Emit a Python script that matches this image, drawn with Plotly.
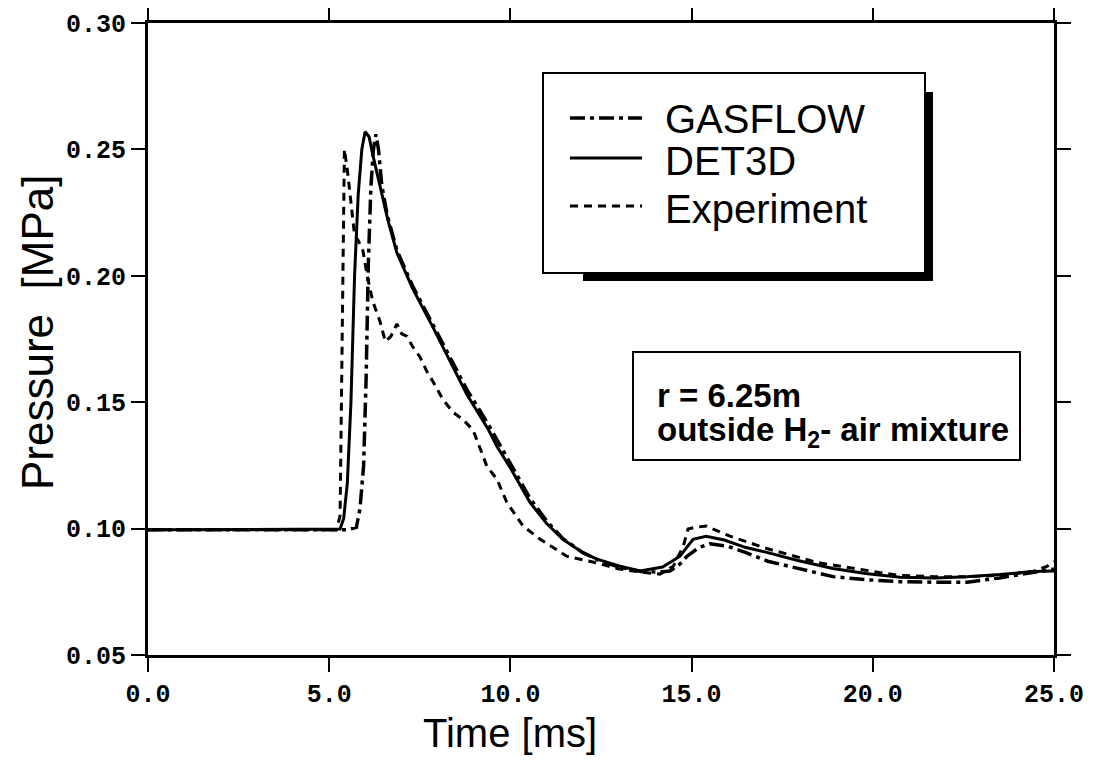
import plotly.graph_objects as go

# ---------------- data ----------------
det3d_t = [0.0, 5.0, 5.3, 5.4, 5.5, 5.6, 5.7, 5.8, 5.9, 5.99, 6.1, 6.2, 6.4, 6.62, 6.87,
           7.3, 7.85, 8.3, 8.8, 9.4, 9.63, 10.0, 10.54, 11.0, 11.45, 12.0, 12.39, 13.0,
           13.58, 14.2, 14.68, 15.04, 15.4, 15.9, 16.5, 17.1, 17.9, 18.9, 19.8, 20.75,
           21.7, 22.6, 23.5, 24.4, 25.0]
det3d_p = [0.0995, 0.0995, 0.0998, 0.104, 0.118, 0.150, 0.200, 0.232, 0.250, 0.257, 0.255,
           0.248, 0.235, 0.222, 0.209, 0.195, 0.180, 0.167, 0.153, 0.139, 0.1325, 0.124,
           0.1104, 0.102, 0.0958, 0.0905, 0.0879, 0.0852, 0.0832, 0.0848, 0.0891, 0.0958,
           0.0970, 0.0955, 0.0925, 0.0905, 0.0875, 0.0842, 0.0822, 0.0808, 0.0805, 0.0810,
           0.0818, 0.0830, 0.0832]

gasflow_t = [0.0, 5.5, 5.75, 5.85, 5.95, 6.02, 6.08, 6.15, 6.22, 6.29, 6.36, 6.45, 6.6,
             6.87, 7.3, 7.85, 8.3, 8.8, 9.4, 10.0, 10.54, 11.0, 11.45, 12.0, 12.5, 13.0,
             13.6, 14.1, 14.4, 14.68, 14.87, 15.2, 15.5, 16.0, 16.5, 17.1, 18.0, 18.9,
             19.8, 20.75, 21.7, 22.6, 23.5, 24.4, 25.0]
gasflow_p = [0.0995, 0.0995, 0.1005, 0.108, 0.125, 0.160, 0.205, 0.235, 0.250, 0.256,
             0.250, 0.236, 0.224, 0.210, 0.196, 0.181, 0.168, 0.155, 0.141, 0.126, 0.112,
             0.103, 0.0960, 0.0905, 0.0870, 0.0848, 0.0830, 0.0828, 0.0832, 0.0860,
             0.0890, 0.0925, 0.0940, 0.0930, 0.0905, 0.0871, 0.0840, 0.0810, 0.0798,
             0.0790, 0.0788, 0.0788, 0.0805, 0.0825, 0.0840]

exp_t = [0.0, 5.2, 5.3, 5.36, 5.42, 5.5, 5.6, 5.7, 5.8, 5.93, 6.05, 6.2, 6.4, 6.55, 6.7,
         6.87, 7.0, 7.15, 7.3, 7.5, 7.7, 7.87, 8.14, 8.42, 8.7, 8.97, 9.35, 9.63, 9.9,
         10.35, 10.82, 11.55, 12.3, 13.0, 13.6, 14.13, 14.5, 14.77, 14.9, 15.1, 15.4,
         16.06, 17.1, 18.5, 19.8, 20.7, 21.7, 22.6, 23.5, 24.4, 24.8, 25.0]
exp_p = [0.0995, 0.0995, 0.105, 0.180, 0.250, 0.242, 0.230, 0.216, 0.214, 0.210, 0.200,
         0.190, 0.182, 0.174, 0.176, 0.181, 0.177, 0.176, 0.172, 0.168, 0.162, 0.158,
         0.151, 0.146, 0.143, 0.139, 0.1247, 0.1195, 0.1104, 0.101, 0.0958, 0.0891,
         0.0867, 0.0840, 0.0828, 0.0820, 0.0852, 0.0930, 0.0998, 0.1005, 0.1010, 0.0970,
         0.0920, 0.0865, 0.0835, 0.0815, 0.0810, 0.0810, 0.0815, 0.0830, 0.0850, 0.0870]

series_names = ["GASFLOW", "DET3D", "Experiment"]
x_ticks = [0.0, 5.0, 10.0, 15.0, 20.0, 25.0]
y_ticks = [0.05, 0.10, 0.15, 0.20, 0.25, 0.30]

# ---------------- layout geometry ----------------
# page has an 8px body margin, so the figure is shrunk by 16px and margins shifted
OFF = 8
W, H = 1096 - 2 * OFF, 767 - 2 * OFF
PL, PR, PT, PB = 148, 1054, 23, 655          # plot area in page pixels
ML, MT = PL - OFF, PT - OFF
MR, MB = W - (PR - OFF), H - (PB - OFF)
PW, PH = PR - PL, PB - PT

def px(x):  # page pixel x -> paper
    return (x - PL) / PW

def py(y):  # page pixel y -> paper
    return (PB - y) / PH

styles = {
    "GASFLOW": dict(color="black", width=3.5, dash="15px,5px,4px,5px"),
    "DET3D": dict(color="black", width=3, dash="solid"),
    "Experiment": dict(color="black", width=3, dash="8px,6px"),
}

fig = go.Figure()
for name, t, p in [("Experiment", exp_t, exp_p), ("GASFLOW", gasflow_t, gasflow_p),
                   ("DET3D", det3d_t, det3d_p)]:
    fig.add_trace(go.Scatter(x=t, y=p, mode="lines", name=name, line=styles[name],
                             showlegend=False))

tick_font = dict(family="Liberation Mono", size=25, color="black", weight="bold")
axis_common = dict(showgrid=False, zeroline=False, showline=True, linecolor="black",
                   linewidth=3, mirror="allticks", ticks="outside", ticklen=14,
                   tickwidth=2, tickcolor="black", tickfont=tick_font, automargin=False)
fig.update_xaxes(range=[0, 25], tickvals=x_ticks,
                 ticktext=[f"{v:.1f}" for v in x_ticks], **axis_common)
fig.update_yaxes(range=[0.05, 0.30], tickvals=y_ticks,
                 ticktext=[f"{v:.2f}" for v in y_ticks], **axis_common)

shapes = []
annotations = []
# legend box with drop shadow
shapes.append(dict(type="rect", xref="paper", yref="paper", x0=px(583), x1=px(933),
                   y0=py(281), y1=py(92), fillcolor="black", line=dict(width=0), layer="above"))
shapes.append(dict(type="rect", xref="paper", yref="paper", x0=px(543), x1=px(925),
                   y0=py(273), y1=py(73), fillcolor="white",
                   line=dict(color="black", width=2), layer="above"))
leg_rows = [("GASFLOW", 118, 119), ("DET3D", 158, 161), ("Experiment", 206, 209)]
for name, ly, ty in leg_rows:
    st = styles[name]
    shapes.append(dict(type="line", xref="paper", yref="paper", x0=px(570), x1=px(642),
                       y0=py(ly), y1=py(ly), layer="above",
                       line=dict(color="black", width=st["width"], dash=st["dash"])))
    annotations.append(dict(text=name, xref="paper", yref="paper", x=px(663), y=py(ty),
                            xanchor="left", yanchor="middle", showarrow=False,
                            font=dict(family="Liberation Sans", size=40, color="black")))

# info box
shapes.append(dict(type="rect", xref="paper", yref="paper", x0=px(633), x1=px(1020),
                   y0=py(460), y1=py(352), fillcolor="white",
                   line=dict(color="black", width=2), layer="above"))
annotations.append(dict(text="<b>r = 6.25m</b>", xref="paper", yref="paper", x=px(655),
                        y=py(395), xanchor="left", yanchor="middle", showarrow=False,
                        font=dict(family="Liberation Sans", size=33, color="black")))
annotations.append(dict(text="<b>outside H<sub>2</sub>- air mixture</b>", xref="paper",
                        yref="paper", x=px(655), y=py(432), xanchor="left",
                        yanchor="middle", showarrow=False,
                        font=dict(family="Liberation Sans", size=33, color="black")))

# axis titles
annotations.append(dict(text="Time [ms]", xref="paper", yref="paper", x=px(510), y=py(733),
                        xanchor="center", yanchor="middle", showarrow=False, borderpad=0,
                        font=dict(family="Liberation Sans", size=40, color="black")))
annotations.append(dict(text="Pressure  [MPa]", xref="paper", yref="paper", x=px(38),
                        y=py(333), xanchor="center", yanchor="middle", showarrow=False,
                        textangle=-90,
                        font=dict(family="Liberation Sans", size=44, color="black")))

fig.update_layout(width=W, height=H, margin=dict(l=ML, r=MR, t=MT, b=MB),
                  plot_bgcolor="white", paper_bgcolor="white", shapes=shapes,
                  annotations=annotations, showlegend=False)

fig.write_html("out.html")
